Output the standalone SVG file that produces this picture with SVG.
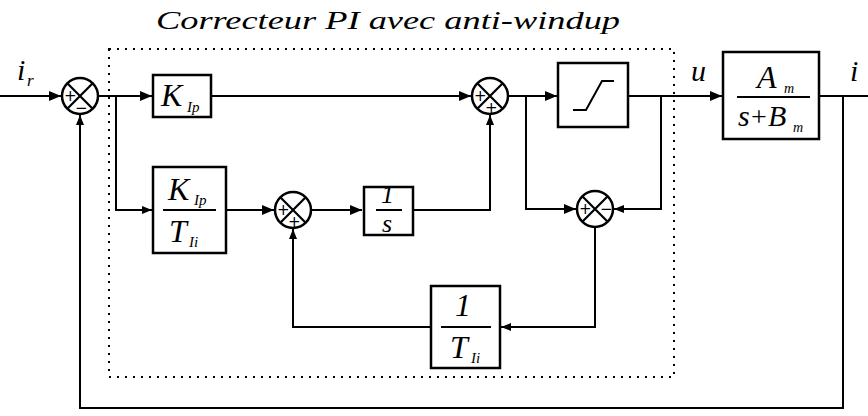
<svg xmlns="http://www.w3.org/2000/svg" width="868" height="416" viewBox="0 0 868 416">
<style>
.blk{fill:#fff;stroke:#000;stroke-width:2.5}
.sum{fill:#fff;stroke:#000;stroke-width:2.5}
.x{stroke:#000;stroke-width:2.2}
.ln{fill:none;stroke:#000;stroke-width:2}
.m{font-family:'Liberation Serif','Times New Roman','DejaVu Serif',serif;font-style:italic;fill:#000}
.r{font-family:'Liberation Serif','DejaVu Serif',serif;fill:#000}
.sg{font-family:'DejaVu Sans','Liberation Sans',sans-serif;font-size:15px;fill:#000}
.frac{stroke:#000;stroke-width:2}
</style>
<defs>
<marker id="ah" markerWidth="12" markerHeight="10" refX="12" refY="5" orient="auto" markerUnits="userSpaceOnUse">
<path d="M0,0 L12,5 L0,10 Z" fill="#000"/>
</marker>
<marker id="as" markerWidth="10" markerHeight="8" refX="10" refY="4" orient="auto" markerUnits="userSpaceOnUse">
<path d="M0,0 L10,4 L0,8 Z" fill="#000"/>
</marker>
</defs>
<rect width="868" height="416" fill="#fff"/>

<text class="m" x="156" y="29" font-size="26" textLength="464" lengthAdjust="spacingAndGlyphs">Correcteur PI avec anti-windup</text>
<rect x="109" y="49" width="565" height="328" fill="none" stroke="#000" stroke-width="2" stroke-dasharray="2,6"/>

<g id="connectors">
<path class="ln" d="M0,96 H61" marker-end="url(#ah)"/>
<path class="ln" d="M98,96 H152" marker-end="url(#ah)"/>
<path class="ln" d="M116,96 V210 H152" marker-end="url(#as)"/>
<path class="ln" d="M211,96 H471" marker-end="url(#ah)"/>
<path class="ln" d="M226,210 H274" marker-end="url(#ah)"/>
<path class="ln" d="M311,210 H362" marker-end="url(#ah)"/>
<path class="ln" d="M412,210 H490 V115" marker-end="url(#as)"/>
<path class="ln" d="M508,96 H557" marker-end="url(#ah)"/>
<path class="ln" d="M526,96 V209 H576" marker-end="url(#ah)"/>
<path class="ln" d="M628,96 H722" marker-end="url(#ah)"/>
<path class="ln" d="M661,96 V209 H614" marker-end="url(#as)"/>
<path class="ln" d="M595,227 V327 H501" marker-end="url(#as)"/>
<path class="ln" d="M431,327 H293 V229" marker-end="url(#as)"/>
<path class="ln" d="M819,96 H868"/>
<path class="ln" d="M843,96 V408 H80 V115" marker-end="url(#as)"/>
</g>

<g id="labels">
<text class="m" x="17" y="80" font-size="30">i</text>
<text class="m" x="27" y="86" font-size="17">r</text>
<text class="m" x="691" y="81" font-size="30">u</text>
<text class="m" x="850" y="81" font-size="30">i</text>
</g>

<g id="sum1">
<circle class="sum" cx="80" cy="96" r="18"/>
<path class="x" d="M67.3,83.3 L92.7,108.7 M92.7,83.3 L67.3,108.7"/>
<text class="sg" x="64" y="101">+</text>
<text class="sg" x="75" y="113">−</text>
</g>

<g id="kip">
<rect class="blk" x="153" y="75" width="58" height="42"/>
<text class="m" x="161" y="106" font-size="32">K</text>
<text class="m" x="187" y="112" font-size="15">Ip</text>
</g>

<g id="kip_tii">
<rect class="blk" x="153" y="167" width="73" height="86"/>
<text class="m" x="168" y="200" font-size="32">K</text>
<text class="m" x="194" y="205" font-size="15">Ip</text>
<line class="frac" x1="163" y1="210" x2="216" y2="210"/>
<text class="m" x="169" y="242" font-size="32">T</text>
<text class="m" x="189" y="247" font-size="15">Ii</text>
</g>

<g id="sum2">
<circle class="sum" cx="293" cy="210" r="18"/>
<path class="x" d="M280.3,197.3 L305.7,222.7 M305.7,197.3 L280.3,222.7"/>
<text class="sg" x="277" y="215">+</text>
<text class="sg" x="288" y="227">+</text>
</g>

<g id="integ">
<rect class="blk" x="364" y="187" width="49" height="48"/>
<text class="m" x="381" y="203" font-size="26">1</text>
<line class="frac" x1="376" y1="210" x2="402" y2="210"/>
<text class="m" x="382" y="232" font-size="26">s</text>
</g>

<g id="sum3">
<circle class="sum" cx="490" cy="96" r="18"/>
<path class="x" d="M477.3,83.3 L502.7,108.7 M502.7,83.3 L477.3,108.7"/>
<text class="sg" x="474" y="101">+</text>
<text class="sg" x="485" y="113">+</text>
</g>

<g id="sat">
<rect class="blk" x="558" y="63" width="70" height="64"/>
<polyline points="573,110 586,110 602,81 614,81" fill="none" stroke="#000" stroke-width="2"/>
</g>

<g id="sum4">
<circle class="sum" cx="595" cy="209" r="18"/>
<path class="x" d="M582.3,196.3 L607.7,221.7 M607.7,196.3 L582.3,221.7"/>
<text class="sg" x="579" y="214">+</text>
<text class="sg" x="600" y="214">−</text>
</g>

<g id="inv_tii">
<rect class="blk" x="431" y="286" width="69" height="82"/>
<text class="m" x="455" y="316" font-size="32">1</text>
<line class="frac" x1="441" y1="327" x2="491" y2="327"/>
<text class="m" x="450" y="358" font-size="32">T</text>
<text class="m" x="471" y="363" font-size="15">Ii</text>
</g>

<g id="plant">
<rect class="blk" x="723" y="52" width="96" height="87"/>
<text class="m" x="757" y="88" font-size="32">A</text>
<text class="m" x="784" y="93" font-size="14">m</text>
<line class="frac" x1="737" y1="97" x2="810" y2="97"/>
<text class="m" x="738" y="126" font-size="30">s</text>
<text class="r" x="751" y="126" font-size="28">+</text>
<text class="m" x="768" y="126" font-size="30">B</text>
<text class="m" x="793" y="132" font-size="14">m</text>
</g>
</svg>
